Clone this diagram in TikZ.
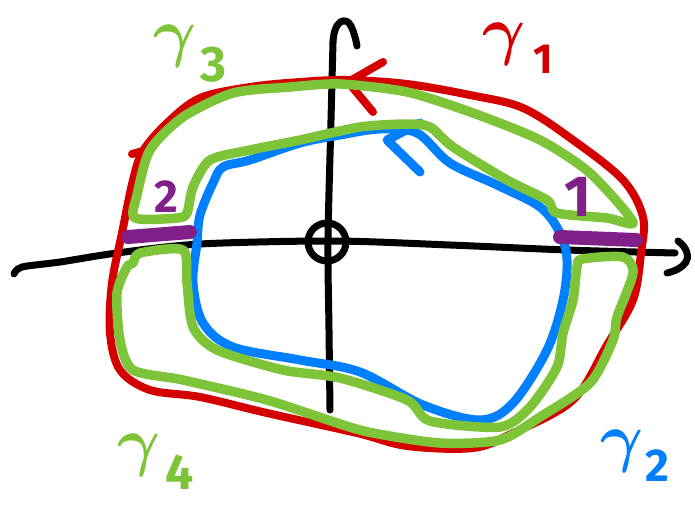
\RequirePackage{fix-cm}
\documentclass[tikz,border=0pt]{standalone}
\usepackage{amsmath}
\usepackage{fontspec}
\setmainfont{Fira Sans}
\definecolor{cred}{RGB}{212,0,0}
\definecolor{cgreen}{RGB}{126,196,56}
\definecolor{cblue}{RGB}{0,128,255}
\definecolor{cpurple}{RGB}{128,32,136}
\newcommand{\gam}{{\fontsize{66}{66}\selectfont$\boldsymbol{\gamma}$}}
\begin{document}
\begin{tikzpicture}[x=1pt,y=-1pt,line cap=round,line join=round,
  axisline/.style={draw=black,line width=7pt},
  redcurve/.style={draw=cred,line width=8pt},
  bluecurve/.style={draw=cblue,line width=9pt},
  greencurve/.style={draw=cgreen,line width=9.5pt},
  cutline/.style={draw=cpurple,line width=14pt,line cap=round},
  glab/.style={inner sep=0pt,anchor=base west,text height=30pt},
  plab/.style={inner sep=0pt,text=cpurple,font=\bfseries}]
\useasboundingbox (0,0) rectangle (695,504);
% axes
\draw[axisline] plot[smooth,tension=0.5] coordinates {(14,274) (22,267) (60,262) (117,253) (200,244) (333,241) (450,245) (567,250) (675,253)};
\draw[axisline] (678,241) .. controls (688,248) and (689,258) .. (686,262) .. controls (682,268) and (675,271) .. (667,273);
\draw[axisline] plot[smooth,tension=0.5] coordinates {(330,410) (329,330) (328,240) (331,120) (333,42)};
\draw[axisline] (333,42) .. controls (334,20) and (346,16) .. (351,26) .. controls (354,32) and (356,40) .. (357,46);
\draw[axisline] (327,242) circle (19);
% gamma1 (red)
\draw[redcurve] plot[smooth cycle,tension=0.55] coordinates {(143,151) (167,123) (200,98) (250,87) (300,82) (347,80) (407,84) (470,95) (523,108) (573,140) (623,180) (643,217) (641,253) (633,300) (607,345) (573,400) (513,433) (473,448) (407,446) (357,433) (267,413) (200,397) (150,390) (120,370) (110,333) (112,283) (122,233) (133,180)};
\draw[redcurve] (132,154) -- (143,151);
\draw[redcurve] (383,62) -- (348,82) -- (373,112);
% gamma2 (blue)
\draw[bluecurve] plot[smooth cycle,tension=0.55] coordinates {(213,183) (200,215) (197,243) (193,283) (203,323) (233,347) (300,360) (360,372) (423,405) (480,420) (513,403) (547,350) (563,300) (567,260) (560,233) (540,207) (497,185) (450,163) (417,133) (380,129) (340,135) (300,143) (250,160) (223,167)};
\draw[bluecurve] (420,123) -- (387,140) -- (420,172);
% gamma3 (green, upper)
\draw[greencurve] plot[smooth cycle,tension=0.45] coordinates {(135,218) (137,195) (150,150) (183,117) (233,93) (290,87) (340,84) (407,92) (473,113) (540,140) (590,173) (633,222) (607,218) (557,213) (547,200) (507,180) (453,147) (430,127) (407,124) (360,127) (300,140) (250,150) (210,160) (193,187) (187,213) (177,218)};
% gamma4 (green, lower)
\draw[greencurve] plot[smooth cycle,tension=0.45] coordinates {(133,263) (140,253) (183,250) (187,283) (193,327) (217,350) (283,370) (340,378) (407,400) (430,421) (500,427) (530,407) (557,367) (563,333) (573,300) (577,267) (582,259) (623,257) (633,273) (617,317) (613,340) (590,383) (540,417) (500,440) (440,443) (373,433) (340,424) (267,400) (183,380) (133,370) (120,340) (117,293) (127,267)};
% cuts
\draw[cutline] (128,237) -- (190,232);
\draw[cutline] (560,237) -- (636,240);
% labels
\node[plab,font=\bfseries\fontsize{46}{46}\selectfont] (c2) at (166,197) {2};
\node[plab,font=\bfseries\fontsize{58}{58}\selectfont] (c1) at (578,197) {1};
\node[glab,text depth=21pt,text=cred] (g1) at (482,52) {\gam\hspace{8pt}\raisebox{-21pt}{\bfseries\fontsize{42}{42}\selectfont 1}};
\node[glab,text depth=27pt,text=cgreen] (g3) at (153,54) {\gam\hspace{4pt}\raisebox{-27pt}{\bfseries\fontsize{50}{50}\selectfont 3}};
\node[glab,text depth=26pt,text=cgreen] (g4) at (117,463) {\gam\hspace{5pt}\raisebox{-26pt}{\bfseries\fontsize{50}{50}\selectfont 4}};
\node[glab,text depth=22pt,text=cblue] (g2) at (600,459) {\gam\hspace{2pt}\raisebox{-22pt}{\bfseries\fontsize{46}{46}\selectfont 2}};
\end{tikzpicture}
\end{document}
